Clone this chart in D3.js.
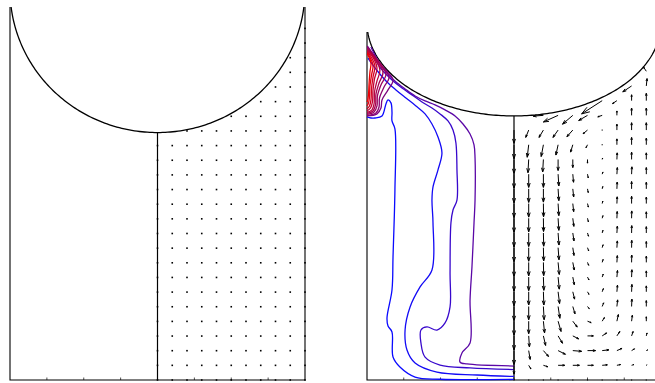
<!DOCTYPE html>
<html>
<head>
<meta charset="utf-8">
<script src="https://cdn.jsdelivr.net/npm/d3@7"></script>
<style>
  html, body { margin: 0; padding: 0; background: #fff; }
  svg { display: block; }
</style>
</head>
<body>
<svg id="chart" width="655" height="383"></svg>
<script>
// quiver grid, shared by both panels (half domain x = 0..1)
const gridX = [0, 0.1, 0.2, 0.3, 0.4, 0.5, 0.6, 0.7, 0.8, 0.9, 1.0];
const gridY = [0, 0.1, 0.2, 0.3, 0.4, 0.5, 0.6, 0.7, 0.8, 0.9, 1.0, 1.1, 1.2,
               1.3, 1.4, 1.5, 1.6, 1.7, 1.8, 1.9, 2.0, 2.1, 2.2, 2.3, 2.4];

// free surface: ellipse centred on the axis, x radius 1
const ifaceLeft = { cy: 2.665, ry: 0.976 };
const ifaceRight = { cy: 2.429, ry: 0.633 };

// right panel velocity in grid spacings; rows follow gridY, columns gridX[0..9]
const velU = [
  [0, 0, 0, 0, 0, 0, 0, 0, 0, 0],
  [0, 0.15, 0.3, 0.45, 0.45, 0.4, 0.35, 0.25, 0.15, 0.05],
  [0, 0.1, 0.35, 0.5, 0.6, 0.55, 0.45, 0.35, 0.2, 0.1],
  [0, 0.05, 0.15, 0.3, 0.4, 0.4, 0.3, 0.2, 0.1, 0.05],
  [0, 0, 0.08, 0.2, 0.3, 0.25, 0.15, 0.1, 0.05, 0],
  [0, 0, 0.05, 0.12, 0.15, 0.12, 0.1, 0.05, 0.02, 0],
  [0, 0, 0.03, 0.1, 0.12, 0.1, 0.08, 0.04, 0.02, 0],
  [0, 0, 0.03, 0.08, 0.1, 0.1, 0.07, 0.04, 0.02, 0],
  [0, 0, 0.02, 0.08, 0.1, 0.08, 0.06, 0.03, 0.01, 0],
  [0, 0, 0.02, 0.06, 0.08, 0.08, 0.06, 0.03, 0.01, 0],
  [0, 0, 0.02, 0.06, 0.08, 0.07, 0.05, 0.03, 0.01, 0],
  [0, 0, 0.01, 0.05, 0.07, 0.06, 0.05, 0.02, 0.01, 0],
  [0, 0, 0.01, 0.05, 0.06, 0.06, 0.04, 0.02, 0, 0],
  [0, 0, 0, 0.05, 0.06, 0.05, 0.04, 0.02, 0, 0],
  [0, 0, 0, 0.05, 0.05, 0.05, 0.05, 0.03, 0.02, 0],
  [0, -0.05, -0.05, 0, 0, 0, 0.03, 0.02, 0, 0],
  [0, -0.1, -0.15, -0.15, -0.15, -0.1, 0, 0, 0, 0],
  [0, -0.2, -0.3, -0.35, -0.4, -0.3, -0.05, 0, 0, 0],
  [0, -0.5, -0.7, -1.0, -0.7, -0.6, -0.3, 0, 0, 0],
  [0, 0, 0, 0, 0, -0.9, -1.4, -0.3, 0, 0],
  [0, 0, 0, 0, 0, 0, 0, 0, -0.6, 0.05],
  [0, 0, 0, 0, 0, 0, 0, 0, 0, -0.2]
];
const velV = [
  [0, 0, 0, 0, 0, 0, 0, 0, 0, 0],
  [-0.6, -0.25, -0.1, 0, 0, 0, 0.03, 0.05, 0.05, 0.03],
  [-0.95, -0.6, -0.4, -0.25, -0.05, 0, 0.05, 0.15, 0.12, 0.05],
  [-0.95, -0.75, -0.65, -0.5, -0.2, 0, 0.2, 0.3, 0.3, 0.2],
  [-0.95, -0.85, -0.8, -0.7, -0.4, -0.1, 0.25, 0.45, 0.4, 0.3],
  [-0.95, -0.9, -0.9, -0.8, -0.5, -0.15, 0.25, 0.45, 0.5, 0.4],
  [-0.95, -0.9, -0.9, -0.8, -0.5, -0.18, 0.22, 0.45, 0.5, 0.4],
  [-0.95, -0.92, -0.9, -0.82, -0.52, -0.2, 0.2, 0.45, 0.5, 0.42],
  [-0.95, -0.92, -0.9, -0.82, -0.52, -0.2, 0.2, 0.46, 0.5, 0.42],
  [-0.95, -0.92, -0.9, -0.82, -0.53, -0.22, 0.2, 0.46, 0.5, 0.42],
  [-0.95, -0.92, -0.9, -0.82, -0.54, -0.22, 0.18, 0.46, 0.5, 0.43],
  [-0.95, -0.92, -0.9, -0.82, -0.55, -0.24, 0.18, 0.46, 0.5, 0.44],
  [-0.95, -0.92, -0.9, -0.82, -0.55, -0.24, 0.17, 0.46, 0.5, 0.44],
  [-0.95, -0.92, -0.9, -0.8, -0.55, -0.25, 0.16, 0.46, 0.5, 0.45],
  [-0.95, -0.9, -0.9, -0.8, -0.55, -0.25, 0.15, 0.45, 0.5, 0.45],
  [-0.95, -0.9, -0.85, -0.75, -0.55, -0.25, 0.1, 0.45, 0.5, 0.45],
  [-0.95, -0.85, -0.8, -0.7, -0.5, -0.2, 0.05, 0.4, 0.5, 0.45],
  [-0.9, -0.5, -0.5, -0.5, -0.45, -0.25, 0, 0.4, 0.5, 0.5],
  [-0.5, -0.1, -0.05, -0.45, -0.6, -0.35, -0.1, 0.3, 0.5, 0.5],
  [0, 0, 0, 0, 0, -0.3, -0.9, -0.2, 0.4, 0.5],
  [0, 0, 0, 0, 0, 0, 0, 0, -0.4, 0.5],
  [0, 0, 0, 0, 0, 0, 0, 0, 0, 0.3]
];

// concentration contours in the left half of the right panel, [x, y]
const contourColour = [0.0, 0.04, 0.2, 0.35, 0.5, 0.56, 0.62, 0.68, 0.74, 0.8, 0.87, 0.93, 1.0];
const contourLines = [
  [[-1.000,1.789],[-0.973,1.782],[-0.946,1.782],[-0.898,1.796],[-0.871,1.878],[-0.857,1.905],[-0.837,1.885],
   [-0.830,1.823],[-0.830,1.762],[-0.810,1.708],[-0.810,1.293],[-0.823,0.837],[-0.830,0.612],[-0.864,0.422],
   [-0.857,0.367],[-0.830,0.327],[-0.823,0.156],[-0.776,0.088],[-0.673,0.020],[-0.503,0.005],[0,0.004]],
  [[-0.993,2.190],[-0.966,2.150],[-0.918,2.088],[-0.864,2.027],[-0.803,1.973],[-0.735,1.918],[-0.667,1.864],
   [-0.605,1.810],[-0.558,1.741],[-0.517,1.653],[-0.490,1.544],[-0.517,1.429],[-0.551,1.313],[-0.558,1.224],
   [-0.551,1.068],[-0.558,0.748],[-0.639,0.633],[-0.707,0.497],[-0.741,0.340],[-0.728,0.204],[-0.673,0.116],
   [-0.524,0.054],[-0.252,0.034],[0,0.024]],
  [[-0.980,2.245],[-0.946,2.184],[-0.898,2.109],[-0.830,2.041],[-0.762,1.986],[-0.694,1.939],[-0.626,1.891],
   [-0.558,1.850],[-0.503,1.810],[-0.449,1.762],[-0.415,1.701],[-0.395,1.612],[-0.388,1.429],[-0.388,1.224],
   [-0.415,1.156],[-0.429,1.068],[-0.435,0.728],[-0.435,0.497],[-0.469,0.388],[-0.524,0.340],[-0.592,0.361],
   [-0.633,0.340],[-0.633,0.252],[-0.605,0.156],[-0.503,0.102],[-0.299,0.082],[0,0.071]],
  [[-0.973,2.265],[-0.932,2.184],[-0.878,2.102],[-0.810,2.034],[-0.741,1.980],[-0.673,1.932],[-0.605,1.898],
   [-0.537,1.871],[-0.469,1.837],[-0.401,1.796],[-0.347,1.741],[-0.299,1.673],[-0.272,1.599],[-0.265,1.510],
   [-0.265,1.224],[-0.272,1.068],[-0.286,0.769],[-0.299,0.544],[-0.299,0.252],[-0.354,0.184],[-0.367,0.122],
   [-0.320,0.109],[0,0.095]],
  [[-0.998,2.272],[-0.912,2.150],[-0.823,2.041],[-0.857,1.973],[-0.898,1.905],[-0.905,1.850],[-0.932,1.810],[-1,1.796]],
  [[-0.998,2.265],[-0.925,2.170],[-0.850,2.061],[-0.884,1.993],[-0.915,1.918],[-0.918,1.857],[-0.939,1.816],[-1,1.799]],
  [[-0.998,2.259],[-0.939,2.190],[-0.871,2.082],[-0.905,2.007],[-0.929,1.932],[-0.932,1.864],[-0.952,1.823],[-1,1.806]],
  [[-0.998,2.252],[-0.949,2.197],[-0.891,2.095],[-0.918,2.020],[-0.939,1.946],[-0.942,1.871],[-0.959,1.830],[-1,1.813]],
  [[-0.998,2.245],[-0.959,2.204],[-0.912,2.109],[-0.932,2.034],[-0.949,1.959],[-0.952,1.878],[-0.966,1.837],[-1,1.820]],
  [[-0.998,2.238],[-0.966,2.204],[-0.932,2.122],[-0.949,2.048],[-0.959,1.973],[-0.963,1.891],[-0.976,1.850],[-1,1.830]],
  [[-0.998,2.231],[-0.976,2.204],[-0.946,2.136],[-0.959,2.061],[-0.969,1.986],[-0.973,1.905],[-0.983,1.864],[-1,1.844]],
  [[-0.998,2.224],[-0.983,2.201],[-0.959,2.143],[-0.969,2.075],[-0.980,2.000],[-0.983,1.925],[-0.990,1.884],[-1,1.864]],
  [[-0.998,2.218],[-0.973,2.156],[-0.980,2.095],[-0.986,2.014],[-0.990,1.939],[-0.995,1.905],[-1,1.891]]
];

const xTicks = [-0.75, -0.5, -0.25, 0, 0.25, 0.5, 0.75];

const svg = d3.select('#chart');
const defs = svg.append('defs');

const panels = [
  { id: 'pL', x: d3.scaleLinear([-1, 1], [10, 305]), y: d3.scaleLinear([0, 2.546], [380, 7]), iface: ifaceLeft },
  { id: 'pR', x: d3.scaleLinear([-1, 1], [367, 661]), y: d3.scaleLinear([0, 2.367], [380, 32]), iface: ifaceRight }
];

function surfaceY(iface, xv) {
  return iface.cy - iface.ry * Math.sqrt(Math.max(0, 1 - xv * xv));
}

function arrowPath(x0, y0, dx, dy) {
  const a = 0.33, b = 0.33;
  const x1 = x0 + dx, y1 = y0 + dy;
  return `M${x0},${y0}L${x1},${y1}` +
    `M${x1 - a * (dx + b * dy)},${y1 - a * (dy - b * dx)}L${x1},${y1}` +
    `L${x1 - a * (dx - b * dy)},${y1 - a * (dy + b * dx)}`;
}

panels.forEach(p => {
  const { x, y, iface } = p;
  const yTop = y.domain()[1];

  defs.append('clipPath').attr('id', p.id + 'clip')
    .append('rect')
      .attr('x', x(-1) - 2).attr('y', y(yTop))
      .attr('width', x(1) - x(-1) + 4).attr('height', y(0) - y(yTop) + 2);

  const g = svg.append('g').attr('clip-path', `url(#${p.id}clip)`);

  // frame: walls and bottom
  g.append('path')
    .attr('d', `M${x(-1)},${y(yTop)}L${x(-1)},${y(0)}L${x(1)},${y(0)}L${x(1)},${y(yTop)}`)
    .attr('fill', 'none').attr('stroke', '#000').attr('stroke-width', 1.1);

  g.selectAll('.tick')
    .data(xTicks)
    .join('line')
      .attr('x1', d => x(d)).attr('x2', d => x(d))
      .attr('y1', y(0)).attr('y2', y(0) - 2.5)
      .attr('stroke', '#000').attr('stroke-width', 0.7);

  // free surface
  const angles = d3.range(0, 181, 1).map(a => a * Math.PI / 180);
  g.append('path')
    .datum(angles)
    .attr('d', d3.line()
      .x(t => x(-Math.cos(t)))
      .y(t => y(iface.cy - iface.ry * Math.sin(t))))
    .attr('fill', 'none').attr('stroke', '#000').attr('stroke-width', 1.3);

  // symmetry axis
  g.append('line')
    .attr('x1', x(0)).attr('x2', x(0))
    .attr('y1', y(surfaceY(iface, 0))).attr('y2', y(0))
    .attr('stroke', '#000').attr('stroke-width', 1.2);
});

// left panel: velocity field is zero -> quiver dots
{
  const { x, y, iface } = panels[0];
  const pts = [];
  gridY.forEach(yv => gridX.forEach(xv => {
    if (yv <= surfaceY(iface, xv) + 1e-6) pts.push([xv, yv]);
  }));
  svg.append('g')
    .selectAll('rect')
    .data(pts)
    .join('rect')
      .attr('x', d => x(d[0]) - 0.8).attr('y', d => y(d[1]) - 0.8)
      .attr('width', 1.6).attr('height', 1.6)
      .attr('fill', '#000');
}

// right panel: contours + velocity arrows
{
  const { x, y, iface } = panels[1];
  const g = svg.append('g').attr('clip-path', 'url(#pRclip)');
  const colour = d3.interpolateRgb('#0a0aff', '#f00000');

  g.selectAll('.contour')
    .data(contourLines)
    .join('path')
      .attr('d', d3.line().x(d => x(d[0])).y(d => y(d[1])).curve(d3.curveCatmullRom.alpha(0.5)))
      .attr('fill', 'none')
      .attr('stroke', (d, i) => colour(contourColour[i]))
      .attr('stroke-width', 1.3);

  const step = gridX[1] - gridX[0];
  const arrows = [];
  velU.forEach((row, j) => row.forEach((u, k) => {
    const xv = gridX[k], yv = gridY[j];
    if (yv > surfaceY(iface, xv)) return;
    arrows.push({ xv, yv, u: u * step, v: velV[j][k] * step });
  }));

  g.selectAll('.arrow')
    .data(arrows)
    .join('path')
      .attr('d', d => {
        const x0 = x(d.xv), y0 = y(d.yv);
        const dx = x(d.xv + d.u) - x0, dy = y(d.yv + d.v) - y0;
        if (Math.hypot(dx, dy) < 0.8) return `M${x0 - 0.6},${y0}h1.2`;
        return arrowPath(x0, y0, dx, dy);
      })
      .attr('fill', 'none').attr('stroke', '#000').attr('stroke-width', 1);
}
</script>
</body>
</html>
